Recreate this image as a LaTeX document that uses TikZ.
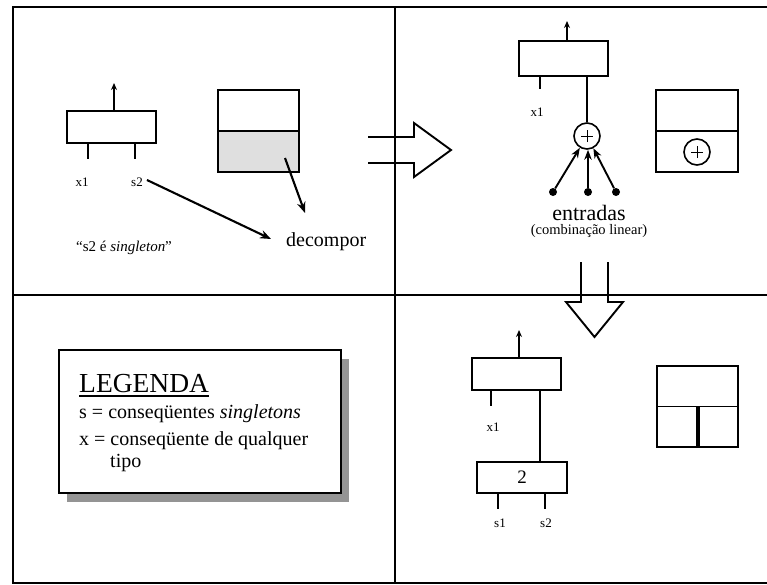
\documentclass[tikz,border=0pt]{standalone}
\usepackage{fontspec}
\setmainfont{Liberation Serif}
\usetikzlibrary{arrows.meta,shadows}

\tikzset{
  frame/.style={line width=2.2pt},
  box/.style={draw, line width=1.9pt, inner sep=0pt, outer sep=0pt},
  wire/.style={line width=1.8pt},
  outarrow/.style={line width=1.7pt, -{Stealth[length=7pt,width=6pt]}},
  thickarrow/.style={line width=2.1pt, -{Stealth[length=11pt,width=8.5pt]}},
  inarrow/.style={line width=1.9pt, -{Stealth[length=10pt,width=7.5pt]}},
  fatarrow/.style={line width=1.9pt, line join=miter},
  lbl/.style={inner sep=0pt, font=\fontsize{13}{15}\selectfont},
  dot/.style={circle, fill, inner sep=0pt, minimum size=8pt},
  plus/.style={draw, circle, line width=1.6pt, minimum size=26pt, inner sep=0pt, fill=white,
    path picture={\draw[line width=1pt]
      ([xshift=-6pt]path picture bounding box.center) -- ([xshift=6pt]path picture bounding box.center)
      ([yshift=-6pt]path picture bounding box.center) -- ([yshift=6pt]path picture bounding box.center);}},
  halfline/.style={path picture={\draw[line width=1.9pt]
      (path picture bounding box.west) -- (path picture bounding box.east);}},
  grayhalf/.style={path picture={
      \fill[gray!25] (path picture bounding box.west) rectangle (path picture bounding box.south east);
      \draw[line width=1.9pt] (path picture bounding box.west) -- (path picture bounding box.east);}},
  splitbox/.style={path picture={
      \draw[line width=1.9pt] (path picture bounding box.west) -- (path picture bounding box.east);
      \draw[line width=4pt] (path picture bounding box.center) -- (path picture bounding box.south);}},
}

\begin{document}
\begin{tikzpicture}[x=1pt,y=-1pt]
\useasboundingbox (0,0) rectangle (767,584);

% frame and quadrant dividers
\draw[frame] (767,7) -- (13,7) -- (13,583) -- (767,583);
\draw[frame] (395,7) -- (395,583);
\draw[frame] (13,295) -- (767,295);

% ---------- upper left ----------
\node[box, minimum width=89pt, minimum height=32pt] (b1) at (111.5,127) {};
\coordinate (o1) at (114,83);
\draw[outarrow] (b1.north -| o1) -- (o1);
\coordinate (l1a) at (88,159);
\coordinate (l1b) at (135,159);
\draw[wire] (b1.south -| l1a) -- (l1a);
\draw[wire] (b1.south -| l1b) -- (l1b);
\node[lbl] (tx1) at (82,182) {x1};
\node[lbl] (ts2) at (137,182) {s2};
\node[inner sep=0pt, font=\fontsize{15}{17}\selectfont] (quote) at (124,248) {“s2 é \textit{singleton}”};

\node[box, minimum width=81pt, minimum height=82pt, grayhalf] (d1) at (258.5,131) {};
\node[inner sep=0pt, font=\fontsize{20}{22}\selectfont, anchor=west] (dec) at (286,242) {decompor};
\coordinate (dsrc) at (285,158);
\coordinate (dtip) at (305,213);
\draw[thickarrow] (dsrc) -- (dtip);
\coordinate (stip) at (271,239);
\draw[thickarrow] ([xshift=4pt,yshift=2pt]ts2.east) -- (stip);

% hollow arrow to the right
\draw[fatarrow] (368,137) -- (414,137) -- (414,123) -- (451,150) -- (414,177) -- (414,163) -- (368,163);

% ---------- upper right ----------
\node[box, minimum width=89pt, minimum height=35pt] (b2) at (563.5,58.5) {};
\coordinate (o2) at (567,21);
\draw[outarrow] (b2.north -| o2) -- (o2);
\coordinate (l2a) at (540,89);
\draw[wire] (b2.south -| l2a) -- (l2a);
\node[lbl] (tx2) at (537,112) {x1};
\node[plus] (sum) at (587,136) {};
\draw[wire] (b2.south -| sum) -- (sum);
\node[dot] (in1) at (553,192) {};
\node[dot] (in2) at (588,192) {};
\node[dot] (in3) at (616,192) {};
\draw[inarrow] (in1) -- (sum);
\draw[inarrow] (in2) -- (sum.south -| in2);
\draw[inarrow] (in3) -- (sum);
\node[inner sep=0pt, font=\fontsize{22}{24}\selectfont] (ent) at (589,213) {entradas};
\node[inner sep=0pt, font=\fontsize{14.5}{16}\selectfont] (comb) at (589,231) {(combinação linear)};

\node[box, minimum width=82pt, minimum height=82pt, halfline] (r2) at (697,131) {};
\node[plus] (sum2) at (697,152) {};

% hollow arrow downwards
\draw[fatarrow] (581,262) -- (581,302) -- (566,302) -- (594.5,337) -- (623,302) -- (608,302) -- (608,262);

% ---------- lower left: legend ----------
\node[box, fill=white, minimum width=282pt, minimum height=143pt,
      drop shadow={shadow xshift=8pt, shadow yshift=-9pt, fill=black!42, opacity=1}] (leg) at (200,421.5) {};
\node[inner sep=0pt, anchor=base west, font=\fontsize{27.5}{30}\selectfont] (legt) at (79,392) {LEGENDA};
\draw[line width=1.6pt] ([yshift=-4pt]legt.base west) -- ([yshift=-4pt]legt.base east);
\node[inner sep=0pt, anchor=base west, font=\fontsize{20}{22}\selectfont] (lgs) at (79,418) {s = conseqüentes \textit{singletons}};
\node[inner sep=0pt, anchor=base west, font=\fontsize{20}{22}\selectfont] (lgx) at (79,445) {x = conseqüente de qualquer};
\node[inner sep=0pt, anchor=base west, font=\fontsize{20}{22}\selectfont] (lgt) at (110,467) {tipo};

% ---------- lower right ----------
\node[box, minimum width=89pt, minimum height=32pt] (b3) at (516.5,374) {};
\coordinate (o3) at (519,330);
\draw[outarrow] (b3.north -| o3) -- (o3);
\coordinate (l3a) at (491,406);
\draw[wire] (b3.south -| l3a) -- (l3a);
\node[lbl] (tx3) at (493,427) {x1};
\node[box, minimum width=90pt, minimum height=31pt, font=\fontsize{19}{21}\selectfont] (b4) at (522,477.5) {2};
\coordinate (l4c) at (540,0);
\draw[wire] (b3.south -| l4c) -- (b4.north -| l4c);
\coordinate (l4a) at (498,509);
\coordinate (l4b) at (545,509);
\draw[wire] (b4.south -| l4a) -- (l4a);
\draw[wire] (b4.south -| l4b) -- (l4b);
\node[lbl] (ts1) at (500,523) {s1};
\node[lbl] (ts22) at (546,523) {s2};

\node[box, minimum width=81pt, minimum height=81pt, splitbox] (r3) at (697.5,406.5) {};
\end{tikzpicture}
\end{document}
